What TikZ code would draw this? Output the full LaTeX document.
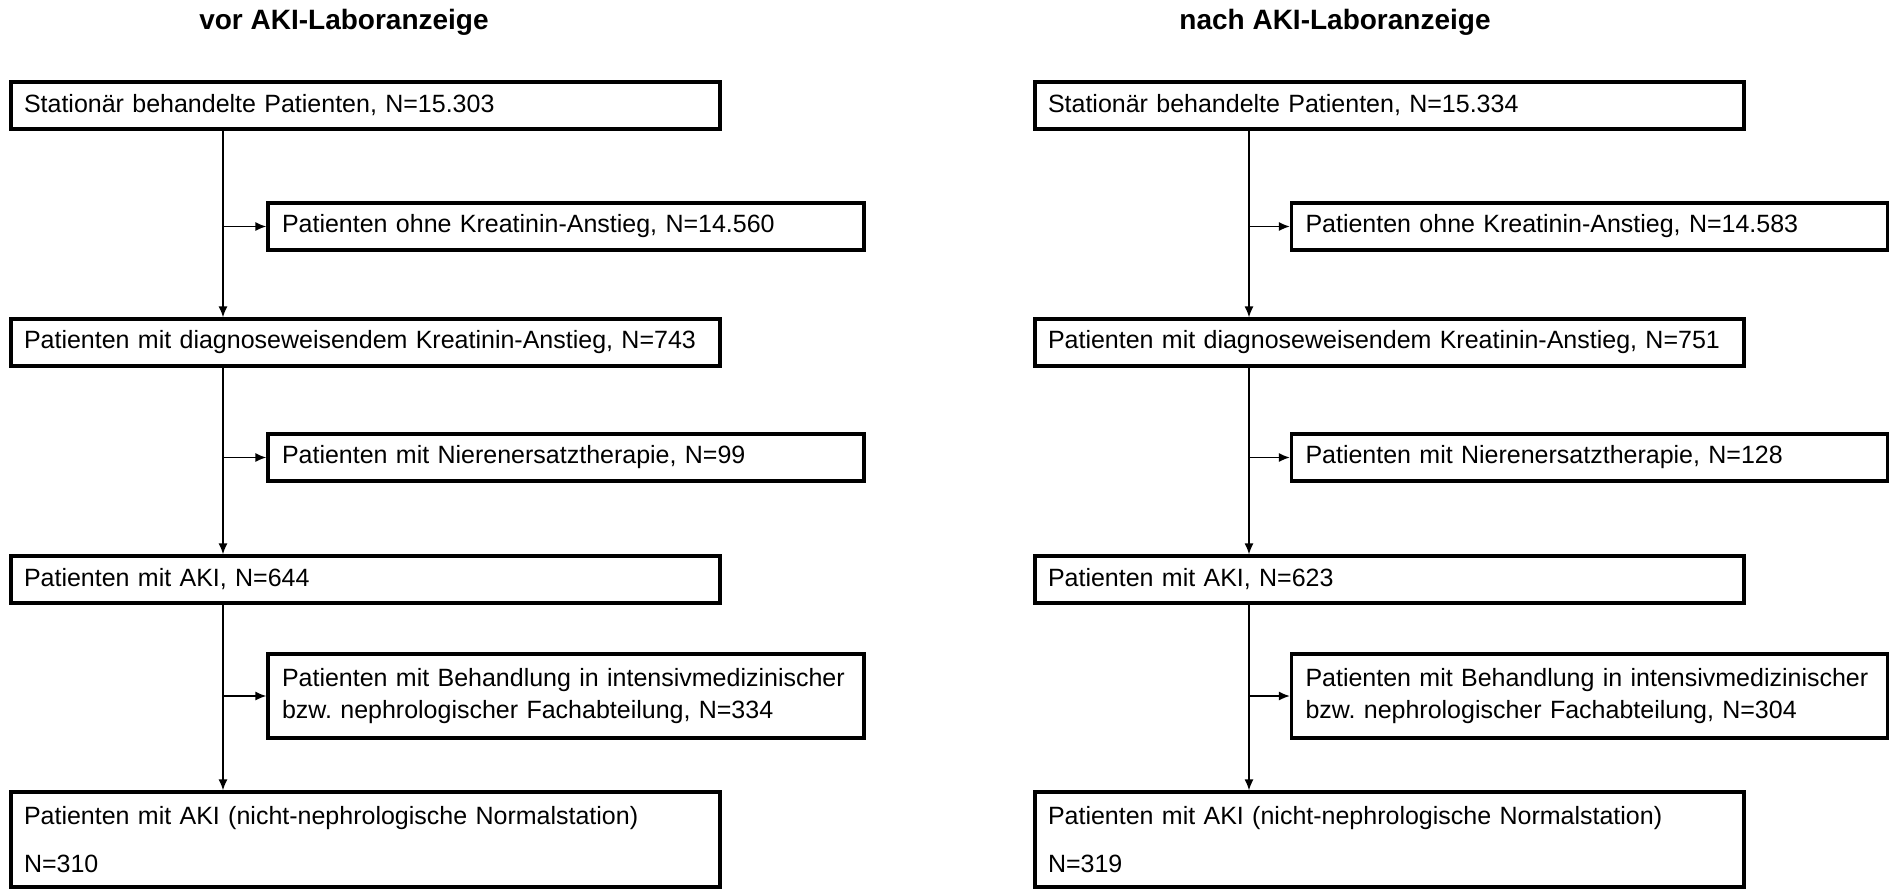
\documentclass[tikz,border=0pt]{standalone}
\usepackage{fontspec}
\setmainfont{Liberation Sans}
\usetikzlibrary{arrows.meta}
\tikzset{
  mainbox/.style={draw, line width=3.2pt, minimum height=47pt, text width=683pt, inner xsep=13pt, align=left},
  sidebox/.style={draw, line width=3.2pt, minimum height=47pt, text width=568pt, inner xsep=14pt, align=left},
  flow/.style={line width=1.6pt, -{Latex[length=11pt,width=9pt]}},
  head/.style={font=\fontsize{28}{34}\selectfont\bfseries}
}
\begin{document}
\begin{tikzpicture}[x=1pt,y=-1pt,font=\fontsize{25}{32}\selectfont]
  \useasboundingbox (0,0) rectangle (1894,889);
  \node[head] (tvor) at (344,22) {vor AKI-Laboranzeige};
  \node[head] (tnach) at (1335,22) {nach AKI-Laboranzeige};

  \node[mainbox] (v1) at (365.5,105.5) {Stationär behandelte Patienten, N=15.303};
  \node[sidebox] (v2) at (566,226.5) {Patienten ohne Kreatinin-Anstieg, N=14.560};
  \node[mainbox] (v3) at (365.5,342.5) {Patienten mit diagnoseweisendem Kreatinin-Anstieg, N=743};
  \node[sidebox] (v4) at (566,457.5) {Patienten mit Nierenersatztherapie, N=99};
  \node[mainbox] (v5) at (365.5,579.5) {Patienten mit AKI, N=644};
  \node[sidebox, minimum height=84pt] (v6) at (566,696) {Patienten mit Behandlung in intensivmedizinischer\\ bzw.\ nephrologischer Fachabteilung, N=334};
  \node[mainbox, minimum height=95pt] (v7) at (365.5,839.5) {Patienten mit AKI (nicht-nephrologische Normalstation)\\[16pt] N=310};

  \node[mainbox] (n1) at (1389.5,105.5) {Stationär behandelte Patienten, N=15.334};
  \node[sidebox] (n2) at (1589.5,226.5) {Patienten ohne Kreatinin-Anstieg, N=14.583};
  \node[mainbox] (n3) at (1389.5,342.5) {Patienten mit diagnoseweisendem Kreatinin-Anstieg, N=751};
  \node[sidebox] (n4) at (1589.5,457.5) {Patienten mit Nierenersatztherapie, N=128};
  \node[mainbox] (n5) at (1389.5,579.5) {Patienten mit AKI, N=623};
  \node[sidebox, minimum height=84pt] (n6) at (1589.5,696) {Patienten mit Behandlung in intensivmedizinischer\\ bzw.\ nephrologischer Fachabteilung, N=304};
  \node[mainbox, minimum height=95pt] (n7) at (1389.5,839.5) {Patienten mit AKI (nicht-nephrologische Normalstation)\\[16pt] N=319};

  \coordinate (lv) at (223,0);
  \coordinate (ln) at (1249,0);
  \draw[flow] (v1.south -| lv) -- (v3.north -| lv);
  \draw[flow] (v3.south -| lv) -- (v5.north -| lv);
  \draw[flow] (v5.south -| lv) -- (v7.north -| lv);
  \draw[flow] (v2.west -| lv) -- (v2.west);
  \draw[flow] (v4.west -| lv) -- (v4.west);
  \draw[flow] (v6.west -| lv) -- (v6.west);
  \draw[flow] (n1.south -| ln) -- (n3.north -| ln);
  \draw[flow] (n3.south -| ln) -- (n5.north -| ln);
  \draw[flow] (n5.south -| ln) -- (n7.north -| ln);
  \draw[flow] (n2.west -| ln) -- (n2.west);
  \draw[flow] (n4.west -| ln) -- (n4.west);
  \draw[flow] (n6.west -| ln) -- (n6.west);
\end{tikzpicture}
\end{document}
